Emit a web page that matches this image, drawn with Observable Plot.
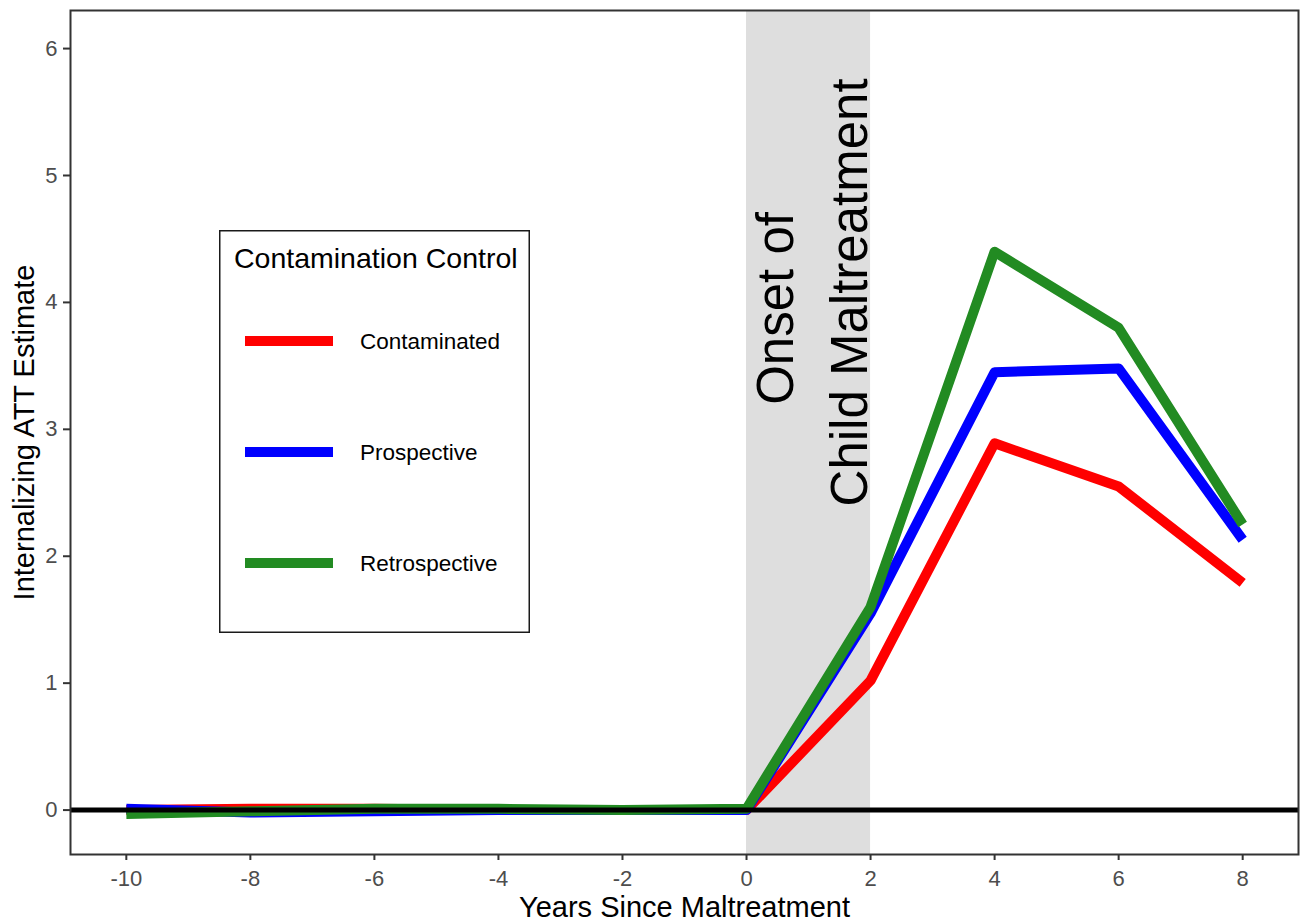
<!DOCTYPE html>
<html>
<head>
<meta charset="utf-8">
<script src="https://cdn.jsdelivr.net/npm/d3@7"></script>
<script src="https://cdn.jsdelivr.net/npm/@observablehq/plot@0.6"></script>
<style>
  html, body { margin: 0; padding: 0; background: white; }
  #wrap { position: relative; width: 1300px; height: 921px; font-family: "Liberation Sans", Arial, sans-serif; }
  #legend { position: absolute; left: 219px; top: 230px; }
</style>
</head>
<body>
<div id="wrap"></div>
<script>
// ---- data ----
const years = [-10, -8, -6, -4, -2, 0, 2, 4, 6, 8];
const contaminated = [0.00, 0.01, 0.01, 0.00, 0.00, 0.00, 1.02, 2.89, 2.55, 1.79];
const prospective = [0.01, -0.02, -0.01, 0.00, 0.00, 0.00, 1.55, 3.45, 3.48, 2.13];
const retrospective = [-0.03, -0.01, 0.01, 0.01, 0.00, 0.01, 1.60, 4.40, 3.80, 2.25];
const seriesNames = ["Contaminated", "Prospective", "Retrospective"];
const seriesColors = ["#FF0000", "#0000FF", "#228B22"];
const xTicks = [-10, -8, -6, -4, -2, 0, 2, 4, 6, 8];
const yTicks = [0, 1, 2, 3, 4, 5, 6];
const onsetBand = [{x1: 0, x2: 2}];
const onsetLine1 = [{x: 1, y: 4, text: "Onset of"}];
const onsetLine2 = [{x: 1, y: 4, text: "Child Maltreatment"}];
const xTitle = "Years Since Maltreatment";
const yTitle = "Internalizing ATT Estimate";
const legendTitle = "Contamination Control";

const seriesValues = [contaminated, prospective, retrospective];
const rows = [];
seriesNames.forEach((s, i) => years.forEach((yr, j) => rows.push({series: s, year: yr, value: seriesValues[i][j]})));

const font = "'Liberation Sans', Arial, sans-serif";

const chart = Plot.plot({
  width: 1300,
  height: 921,
  marginLeft: 70,
  marginRight: 2,
  marginTop: 10,
  marginBottom: 67,
  style: {fontFamily: font, background: "white"},
  x: {domain: [-10.9, 8.9]},
  y: {domain: [-0.35, 6.3]},
  color: {domain: seriesNames, range: seriesColors},
  marks: [
    Plot.rect(onsetBand, {x1: "x1", x2: "x2", fill: "#DEDEDE"}),
    Plot.text(onsetLine1, {x: "x", y: "y", text: "text", rotate: -90, fontSize: 51, textAnchor: "middle", lineAnchor: "bottom", dx: -16, dy: 6, fill: "black"}),
    Plot.text(onsetLine2, {x: "x", y: "y", text: "text", rotate: -90, fontSize: 51, textAnchor: "middle", lineAnchor: "bottom", dx: 58, dy: -10, fill: "black"}),
    Plot.line(rows, {x: "year", y: "value", z: "series", stroke: "series", strokeWidth: 10, strokeLinejoin: "round", strokeLinecap: "butt"}),
    Plot.ruleY([0], {stroke: "black", strokeWidth: 5}),
    Plot.axisX({ticks: xTicks, tickFormat: d => String(d), tickSize: 6, tickPadding: 10, fontSize: 22, stroke: "#333333", strokeWidth: 2, fill: "#4D4D4D", label: null}),
    Plot.axisY({ticks: yTicks, tickFormat: d => String(d), tickSize: 7, tickPadding: 6, fontSize: 22, stroke: "#333333", strokeWidth: 2, fill: "#4D4D4D", label: null}),
    Plot.text([xTitle], {frameAnchor: "bottom", textAnchor: "middle", dy: 62, lineAnchor: "bottom", fontSize: 29, fill: "black"}),
    Plot.text([yTitle], {frameAnchor: "left", textAnchor: "middle", rotate: -90, dx: -37, lineAnchor: "bottom", fontSize: 29, fill: "black"}),
    Plot.frame({stroke: "#333333", strokeWidth: 2})
  ]
});
document.getElementById("wrap").appendChild(chart);

// ---- legend (overlay inside the panel) ----
const lw = 311, lh = 403;
const leg = d3.select("#wrap").append("svg")
  .attr("id", "legend")
  .attr("width", lw).attr("height", lh)
  .style("font-family", font);
leg.append("rect").attr("x", 0.75).attr("y", 0.75).attr("width", lw - 1.5).attr("height", lh - 1.5)
  .attr("fill", "white").attr("stroke", "#1a1a1a").attr("stroke-width", 1.5);
leg.append("text").attr("x", 15).attr("y", 38).attr("font-size", 28.5).attr("fill", "black").text(legendTitle);
const rowY = [111, 222, 333];
seriesNames.forEach((s, i) => {
  leg.append("line").attr("x1", 26).attr("x2", 114).attr("y1", rowY[i]).attr("y2", rowY[i])
    .attr("stroke", seriesColors[i]).attr("stroke-width", 10);
  leg.append("text").attr("x", 141).attr("y", rowY[i]).attr("dy", "0.35em")
    .attr("font-size", 22.5).attr("fill", "black").text(s);
});
</script>
</body>
</html>
